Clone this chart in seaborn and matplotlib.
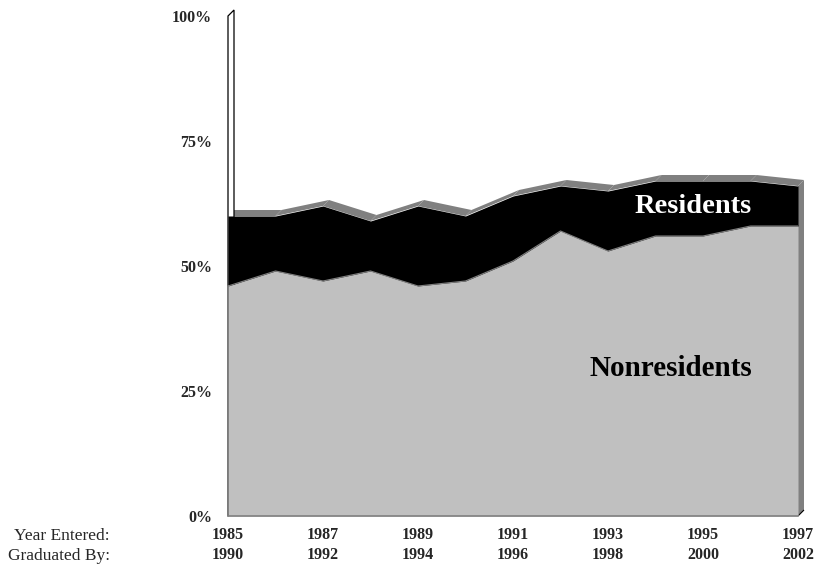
import numpy as np
import pandas as pd
import matplotlib
matplotlib.use("Agg")
import matplotlib.pyplot as plt
import seaborn as sns
from matplotlib.patches import Polygon
from matplotlib.transforms import IdentityTransform

# Share of each entering class that graduated within five years
years_entered = [1985, 1986, 1987, 1988, 1989, 1990, 1991,
                 1992, 1993, 1994, 1995, 1996, 1997]
nonresidents = [46, 49, 47, 49, 46, 47, 51, 57, 53, 56, 56, 58, 58]
residents = [14, 11, 15, 10, 16, 13, 13, 9, 12, 11, 11, 9, 8]

tick_entered = [1985, 1987, 1989, 1991, 1993, 1995, 1997]
tick_graduated = [1990, 1992, 1994, 1996, 1998, 2000, 2002]
pct_ticks = [0, 25, 50, 75, 100]
pct_labels = ["0%", "25%", "50%", "75%", "100%"]

FRONT_GRAY = "#C0C0C0"
SHADE_GRAY = "#808080"
DEPTH = np.array([6.0, 6.0])  # pseudo-3D depth offset, in pixels

sns.set_theme(style="white")
plt.rcParams["font.family"] = ["Liberation Serif", "DejaVu Serif"]

df = pd.DataFrame({"year": years_entered,
                   "Nonresidents": nonresidents,
                   "Residents": residents})
df["Total"] = df["Nonresidents"] + df["Residents"]

fig = plt.figure(figsize=(8.17, 5.64), dpi=100)
ax = fig.add_axes([228 / 817, 48 / 564, 570 / 817, 500 / 564])
ax.set_xlim(df["year"].min(), df["year"].max())
ax.set_ylim(0, 100)


def px(x, y):
    """Data coordinates -> display pixels."""
    return ax.transData.transform(np.column_stack([np.atleast_1d(x), np.atleast_1d(y)]))


def depth_face(x, y, **kw):
    """Face swept from a front edge back along the depth direction."""
    front = px(x, y)
    back = front[::-1] + DEPTH
    poly = Polygon(np.vstack([front, back]), closed=True,
                   transform=IdentityTransform(), clip_on=False, **kw)
    ax.add_patch(poly)
    return poly


x0, x1 = df["year"].iloc[0], df["year"].iloc[-1]

# top surface of the stack, one quad per segment
for i in range(len(df) - 1):
    depth_face(df["year"].iloc[i:i + 2].values, df["Total"].iloc[i:i + 2].values,
               facecolor=SHADE_GRAY, edgecolor="none", zorder=1)

# left wall
depth_face([x0, x0], [0, 100], facecolor="white", edgecolor="black",
           linewidth=0.9, zorder=2)

# right end face of the stack
depth_face([x1, x1], [0, df["Total"].iloc[-1]], facecolor=SHADE_GRAY,
           edgecolor="none", zorder=2)
depth_face([x1, x1], [0, 0], facecolor="none", edgecolor="black",
           linewidth=0.8, zorder=2)

# front faces
ax.fill_between(df["year"], 0, df["Nonresidents"], color=FRONT_GRAY,
                linewidth=0, zorder=3)
ax.fill_between(df["year"], df["Nonresidents"], df["Total"], color="black",
                linewidth=0, zorder=3)

# edges of the front face
sns.lineplot(data=df, x="year", y="Nonresidents", color=SHADE_GRAY,
             linewidth=0.8, ax=ax, zorder=4)
ax.plot([x0, x1], [0, 0], color=SHADE_GRAY, linewidth=1.2, zorder=4, clip_on=False)
ax.plot([x0, x0], [0, df["Nonresidents"].iloc[0]], color=SHADE_GRAY,
        linewidth=1.2, zorder=4, clip_on=False)

# series labels
ax.text(1996.03, 60.6, "Residents", color="white", fontsize=20.5,
        fontweight="bold", ha="right", va="baseline", zorder=5)
ax.text(1996.03, 28.0, "Nonresidents", color="black", fontsize=21,
        fontweight="bold", ha="right", va="baseline", zorder=5)

# axes
ax.set_xlabel("")
ax.set_ylabel("")
ax.set_yticks(pct_ticks, labels=pct_labels)
ax.set_xticks(tick_entered,
              labels=[f"{a}\n{b}" for a, b in zip(tick_entered, tick_graduated)])
ax.tick_params(axis="both", length=0, labelsize=11.5)
ax.tick_params(axis="y", pad=11.5)
ax.tick_params(axis="x", pad=8.0)
for lbl in ax.get_xticklabels() + ax.get_yticklabels():
    lbl.set_fontweight("bold")
for lbl in ax.get_xticklabels():
    lbl.set_linespacing(1.36)
for s in ax.spines.values():
    s.set_visible(False)
ax.grid(False)
ax.set_facecolor("none")

fig.text(110 / 817, 1 - 536.0 / 564, "Year Entered:", ha="right", va="center",
         fontsize=12.5)
fig.text(110 / 817, 1 - 555.5 / 564, "Graduated By:", ha="right", va="center",
         fontsize=12.5)

fig.savefig("out.png", dpi=100, facecolor="white")
